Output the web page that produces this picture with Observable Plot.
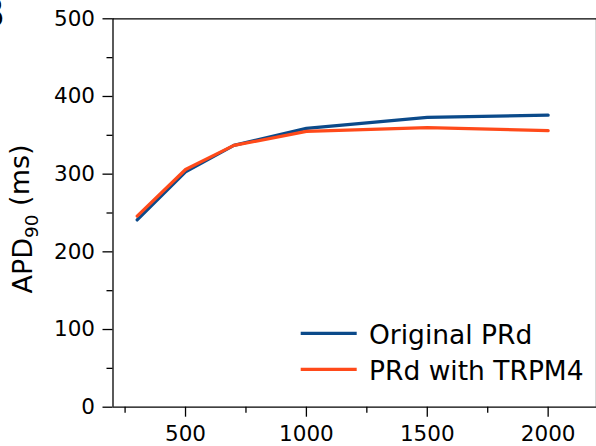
<!DOCTYPE html>
<html><head><meta charset="utf-8">
<script src="https://cdn.jsdelivr.net/npm/d3@7"></script>
<script src="https://cdn.jsdelivr.net/npm/@observablehq/plot@0.6"></script>
<style>body{margin:0;background:#fff}</style>
</head><body><div id="chart"></div>
<script>
const cycleLengths = [300, 500, 700, 1000, 1500, 2000];
const originalPRd = [241, 303, 337, 359, 373, 376];
const prdTRPM4 = [246, 306, 337, 355, 360, 356];
const seriesNames = ["Original PRd", "PRd with TRPM4"];
const seriesColors = ["#0b4a8a", "#ff4a1a"];
const xMajorTicks = [500, 1000, 1500, 2000];
const xMinorTicks = [250, 750, 1250, 1750];
const yMajorTicks = [0, 100, 200, 300, 400, 500];
const yMinorTicks = [50, 150, 250, 350, 450];
const xDomain = [200, 2200];
const yDomain = [0, 500];

const data = [
  ...cycleLengths.map((x, i) => ({x, y: originalPRd[i], s: seriesNames[0]})),
  ...cycleLengths.map((x, i) => ({x, y: prdTRPM4[i], s: seriesNames[1]}))
];

const font = "'DejaVu Sans', sans-serif";
const fmt = d3.format("d");
const plot = Plot.plot({
  width: 596, height: 446,
  marginLeft: 112.5, marginRight: 0, marginTop: 18.3, marginBottom: 39.3,
  x: {domain: xDomain},
  y: {domain: yDomain},
  color: {domain: seriesNames, range: seriesColors},
  style: {fontFamily: font, fontSize: "21.5px", color: "#000", background: "#fff"},
  marks: [
    Plot.axisX(xMinorTicks, {tickSize: 6, tickFormat: () => "", strokeWidth: 1.3, label: null}),
    Plot.axisX(xMajorTicks, {tickSize: 10, tickPadding: 9, strokeWidth: 1.3, tickFormat: fmt, label: null}),
    Plot.axisY(yMinorTicks, {tickSize: 6, tickFormat: () => "", strokeWidth: 1.3, label: null}),
    Plot.axisY(yMajorTicks, {tickSize: 10, tickPadding: 8, strokeWidth: 1.3, tickFormat: fmt, label: null}),
    Plot.ruleX([xDomain[0]], {stroke: "#000", strokeWidth: 1.3}),
    Plot.ruleX([xDomain[1]], {stroke: "#000", strokeWidth: 1.3}),
    Plot.ruleY(yDomain, {stroke: "#000", strokeWidth: 1.3}),
    Plot.line(data, {x: "x", y: "y", stroke: "s", strokeWidth: 3.2})
  ]
});

const svg = d3.select(plot);
// y-axis label with subscript
const lab = svg.append("text")
  .attr("transform", "translate(32,219) rotate(-90)")
  .style("text-anchor", "middle")
  .style("font-family", font)
  .style("font-size", "27px")
  .attr("fill", "#000");
lab.append("tspan").text("APD");
lab.append("tspan").style("font-size", "18.5px").attr("dy", "0.33em").text("90");
lab.append("tspan").attr("dy", "-0.33em").text("\u00a0(ms)");

// legend
const lg = svg.append("g").style("font-family", font).style("font-size", "26.5px");
seriesNames.forEach((name, i) => {
  const yy = 333.3 + i * 36;
  lg.append("line").attr("x1", 300.7).attr("x2", 356.7).attr("y1", yy).attr("y2", yy)
    .attr("stroke", seriesColors[i]).attr("stroke-width", 3.2);
  lg.append("text").attr("x", 369).attr("y", yy + 10.5).style("text-anchor", "start")
    .attr("fill", "#000").text(name);
});

// panel letter (cropped at the edge, as in the reference)
svg.append("text").attr("x", 5).attr("y", 27).style("text-anchor", "end")
  .style("font-family", font).style("font-weight", "bold").style("font-size", "40px")
  .attr("fill", "#000").text("B");

document.getElementById("chart").appendChild(plot);
</script>
</body></html>
